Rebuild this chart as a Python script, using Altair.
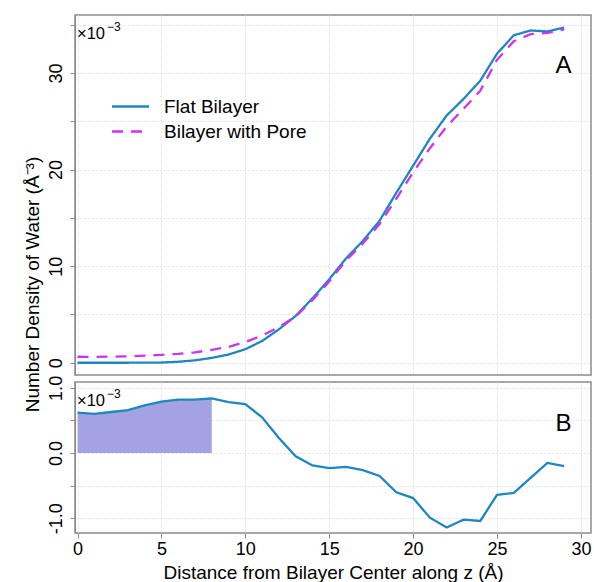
import altair as alt
import pandas as pd

# Distance from the bilayer centre (Å)
z = list(range(30))

# Number density of water, in units of 1e-3 Å^-3
flat = [0.0, 0.0, 0.0, 0.0, 0.01, 0.02, 0.10, 0.25, 0.50, 0.85,
        1.40, 2.25, 3.46, 4.84, 6.67, 8.64, 10.80, 12.60, 14.70, 17.60,
        20.40, 23.20, 25.60, 27.30, 29.20, 32.00, 33.90, 34.40, 34.30, 34.70]
pore = [0.62, 0.60, 0.63, 0.66, 0.74, 0.81, 0.92, 1.07, 1.34, 1.63,
        2.15, 2.80, 3.69, 4.79, 6.48, 8.41, 10.59, 12.34, 14.35, 17.00,
        19.71, 22.21, 24.46, 26.28, 28.16, 31.36, 33.29, 34.02, 34.15, 34.50]
# Pore minus flat, same units
diff = [0.62, 0.60, 0.63, 0.66, 0.73, 0.79, 0.82, 0.82, 0.84, 0.78,
        0.75, 0.55, 0.23, -0.05, -0.19, -0.23, -0.21, -0.26, -0.35, -0.60,
        -0.69, -0.99, -1.14, -1.02, -1.04, -0.64, -0.61, -0.38, -0.15, -0.20]

series_names = ["Flat Bilayer", "Bilayer with Pore"]
series_colors = ["#1f87c0", "#cc33f5"]
series_dashes = [[1, 0], [11, 8]]
shade_limit = 8

x_ticks = list(range(0, 31, 5))
top_ticks = list(range(0, 36, 5))
bottom_ticks = [-1.0, -0.5, 0.0, 0.5, 1.0]

FONT = "Liberation Sans"
FRAME = "#8c8c8c"

top_df = pd.DataFrame({
    "z": z * 2,
    "density": flat + pore,
    "series": [series_names[0]] * len(z) + [series_names[1]] * len(z),
})
bottom_df = pd.DataFrame({"z": z, "diff": diff})

x_scale = alt.Scale(domain=[-0.15, 30.6], nice=False, zero=False)

legend_cfg = dict(
    title=None, orient="none", legendX=45, legendY=81,
    labelFontSize=19, labelFont=FONT, labelColor="black",
    symbolType="M-2,0H2", symbolSize=342, symbolStrokeWidth=2.3,
    labelOffset=23, rowPadding=4, padding=0,
)


def multiplier():
    """The '×10^-3' scale note drawn in a panel's top-left corner."""
    base = alt.Chart(pd.DataFrame({"t": ["×10"]})).mark_text(
        align="left", baseline="alphabetic", fontSize=16.5, font=FONT, color="black"
    ).encode(x=alt.value(2), y=alt.value(24), text="t:N")
    power = alt.Chart(pd.DataFrame({"t": ["−3"]})).mark_text(
        align="left", baseline="alphabetic", fontSize=12, font=FONT, color="black"
    ).encode(x=alt.value(32), y=alt.value(16), text="t:N")
    return [base, power]


def panel_tag(letter, baseline_y):
    return alt.Chart(pd.DataFrame({"t": [letter]})).mark_text(
        align="center", baseline="alphabetic", fontSize=24, font=FONT, color="black"
    ).encode(x=alt.value(488.5), y=alt.value(baseline_y), text="t:N")


top_lines = alt.Chart(top_df).mark_line(strokeWidth=2.3).encode(
    x=alt.X("z:Q", scale=x_scale,
            axis=alt.Axis(values=x_ticks, labels=False, ticks=False,
                          domain=False, grid=True, title=None)),
    y=alt.Y("density:Q",
            scale=alt.Scale(domain=[-1.27, 36.0], nice=False, zero=False),
            axis=alt.Axis(values=top_ticks,
                          labelExpr="datum.value % 10 === 0 ? datum.label : ''",
                          title="Number Density of Water (Å⁻³)",
                          titleX=-37, titleY=269, titleAngle=270,
                          titleAlign="center", titleBaseline="alphabetic")),
    color=alt.Color("series:N",
                    scale=alt.Scale(domain=series_names, range=series_colors),
                    legend=alt.Legend(**legend_cfg)),
    strokeDash=alt.StrokeDash("series:N",
                              scale=alt.Scale(domain=series_names, range=series_dashes),
                              legend=alt.Legend(**legend_cfg)),
)

top = alt.layer(top_lines, *multiplier(), panel_tag("A", 58)).properties(
    width=516, height=360)

bottom_x = alt.X("z:Q", scale=x_scale,
                 axis=alt.Axis(values=x_ticks, grid=True, domain=False,
                               title="Distance from Bilayer Center along z (Å)",
                               titleY=45, titleBaseline="alphabetic",
                               labelBaseline="alphabetic", labelPadding=16))
bottom_y = alt.Y("diff:Q",
                 scale=alt.Scale(domain=[-1.225, 1.09], nice=False, zero=False),
                 axis=alt.Axis(values=bottom_ticks, title=None,
                               labelExpr="datum.value % 1 === 0 ? replace(format(datum.value, '.1f'), '\u2212', '-') : ''"))

shade = alt.Chart(bottom_df).transform_filter(
    alt.datum.z <= shade_limit
).mark_area(color="#a3a3e2", opacity=1).encode(
    x=bottom_x, y=bottom_y, y2=alt.datum(0)
)

bottom_line = alt.Chart(bottom_df).mark_line(
    strokeWidth=2.3, color=series_colors[0]
).encode(x=bottom_x, y=bottom_y)

bottom = alt.layer(shade, bottom_line, *multiplier(),
                   panel_tag("B", 48.5)).properties(width=516, height=151)

chart = alt.vconcat(top, bottom, spacing=7, bounds="flush").resolve_scale(
    color="independent", strokeDash="independent"
).properties(
    padding={"left": 22, "top": 14, "right": 0, "bottom": 0},
    background="white",
).configure(font=FONT).configure_view(
    stroke=FRAME, strokeWidth=1.5
).configure_axis(
    labelFont=FONT, titleFont=FONT, labelFontSize=18, titleFontSize=19,
    titleFontWeight="normal", labelColor="black", titleColor="black",
    tickColor=FRAME, tickSize=5, tickWidth=1,
    gridColor="#e2e2e2", gridDash=[2, 2], gridWidth=1,
).configure_axisLeft(
    labelAngle=270, labelAlign="center", labelBaseline="alphabetic",
    labelPadding=9,
)

chart.save("out.html", embed_options={"renderer": "svg", "actions": False})
